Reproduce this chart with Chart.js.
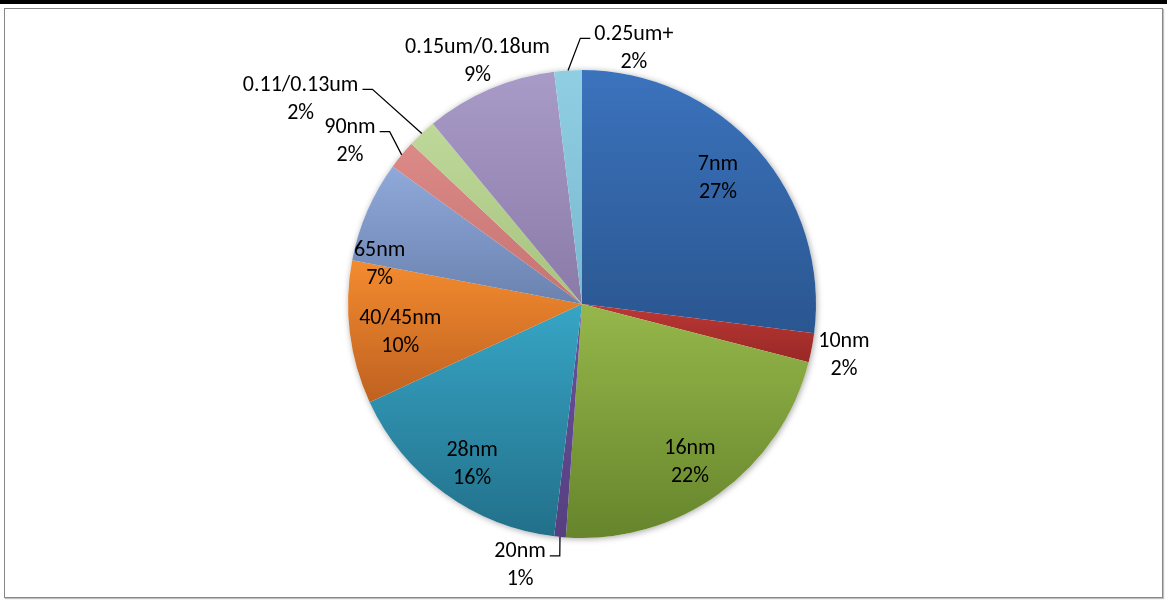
<!DOCTYPE html>
<html>
<head>
<meta charset="utf-8">
<script src="https://cdn.jsdelivr.net/npm/chart.js@4.4.1/dist/chart.umd.min.js"></script>
<style>
  html, body { margin: 0; padding: 0; background: #fff; }
  body { width: 1167px; height: 601px; position: relative; overflow: hidden; }
  .top-rule { position: absolute; left: 0; top: 0; width: 1167px; height: 4px; background: #000; }
  .frame { position: absolute; left: 4px; top: 8px; width: 1157px; height: 588px;
           border: 1px solid #878787; box-shadow: 1px 1px 1px rgba(0,0,0,.25); }
  #chart { position: absolute; left: 0; top: 0; }
</style>
</head>
<body>
<div class="top-rule"></div>
<div class="frame"></div>
<canvas id="chart" width="1167" height="601"></canvas>
<script>
/* process node share */
const nodes  = ['7nm', '10nm', '16nm', '20nm', '28nm', '40/45nm', '65nm', '90nm', '0.11/0.13um', '0.15um/0.18um', '0.25um+'];
const shares = [27, 2, 22.1, 0.8, 16.2, 9.9, 7, 2, 2, 9.1, 1.9];

// Excel-ish gradient: light at top of slice, darker at bottom
const lightColors = ['#3b73bd', '#bb3834', '#95b74a', '#6a529c', '#37a5c5', '#f38b2f', '#8fa9da', '#db8a88', '#bdd899', '#a99bc8', '#90cee3'];
const darkColors  = ['#2a5690', '#982826', '#66852c', '#553f80', '#22708a', '#bf6120', '#6b82af', '#c67371', '#a8c37e', '#8a7aa8', '#79b8ce'];

// label placement: radius factor + angle shift (deg, clockwise) from slice middle
const labelPlace = [
  { r: 0.797, da: -1.8 },
  { r: 1.139, da: -0.2 },
  { r: 0.814, da: 1.3 },
  { r: 1.142, da: 8.0, leader: 'right' },
  { r: 0.825, da: -1.3 },
  { r: 0.785, da: -1.4 },
  { r: 0.883, da: -11.8 },
  { r: 1.215, da: -4.3, leader: 'right' },
  { r: 1.492, da: -10.5, leader: 'right' },
  { r: 1.138, da: 0.1 },
  { r: 1.123, da: 14.8, leader: 'left' },
];

const LABEL_FONT = '22px Carlito, Calibri, Lato, sans-serif';
const LINE_H = 28;

function sliceBounds(el) {
  const { x, y, startAngle, endAngle, outerRadius } = el.getProps(['x', 'y', 'startAngle', 'endAngle', 'outerRadius'], true);
  let minY = y, maxY = y;
  const steps = 40;
  for (let i = 0; i <= steps; i++) {
    const a = startAngle + (endAngle - startAngle) * i / steps;
    const py = y + outerRadius * Math.sin(a);
    minY = Math.min(minY, py);
    maxY = Math.max(maxY, py);
  }
  return { minY, maxY };
}

const pieDecor = {
  id: 'pieDecor',
  beforeDatasetsDraw(chart) {
    const ctx = chart.ctx;
    const arcs = chart.getDatasetMeta(0).data;
    if (!arcs.length) return;
    const { x, y, outerRadius } = arcs[0].getProps(['x', 'y', 'outerRadius'], true);

    // soft shadow behind the whole pie
    ctx.save();
    ctx.shadowColor = 'rgba(0,0,0,0.35)';
    ctx.shadowBlur = 6;
    ctx.shadowOffsetX = 1;
    ctx.shadowOffsetY = 1;
    ctx.fillStyle = '#fff';
    ctx.beginPath();
    ctx.arc(x, y, outerRadius, 0, Math.PI * 2);
    ctx.fill();
    ctx.restore();

    arcs.forEach((el, i) => {
      const b = sliceBounds(el);
      const g = ctx.createLinearGradient(0, b.minY, 0, b.maxY + 0.01);
      g.addColorStop(0, lightColors[i]);
      g.addColorStop(1, darkColors[i]);
      el.options.backgroundColor = g;
    });
  },
  afterDatasetsDraw(chart) {
    const ctx = chart.ctx;
    const arcs = chart.getDatasetMeta(0).data;
    const total = shares.reduce((s, v) => s + v, 0);
    ctx.save();
    ctx.font = LABEL_FONT;
    ctx.fillStyle = '#000';
    ctx.textAlign = 'center';
    ctx.textBaseline = 'middle';
    ctx.strokeStyle = '#000';
    ctx.lineWidth = 1.25;

    arcs.forEach((el, i) => {
      const { x, y, startAngle, endAngle, outerRadius } = el.getProps(['x', 'y', 'startAngle', 'endAngle', 'outerRadius'], true);
      const mid = (startAngle + endAngle) / 2;
      const p = labelPlace[i];
      const a = mid + p.da * Math.PI / 180;
      const cx = x + outerRadius * p.r * Math.cos(a);
      const cy = y + outerRadius * p.r * Math.sin(a) + 2;
      const line1 = nodes[i];
      const line2 = Math.round(shares[i] / total * 100) + '%';
      const y1 = cy - LINE_H / 2;
      ctx.fillText(line1, cx, y1);
      ctx.fillText(line2, cx, cy + LINE_H / 2);

      if (p.leader) {
        const w = ctx.measureText(line1).width;
        const ly = y1 + 4;
        const side = p.leader === 'right' ? 1 : -1;
        const ex = cx + side * (w / 2 + 4);
        const kx = ex + side * 10;
        const sx = x + outerRadius * Math.cos(mid);
        const sy = y + outerRadius * Math.sin(mid);
        ctx.beginPath();
        ctx.moveTo(ex, ly);
        ctx.lineTo(kx, ly);
        ctx.lineTo(sx, sy);
        ctx.stroke();
      }
    });
    ctx.restore();
  }
};

new Chart(document.getElementById('chart'), {
  type: 'pie',
  data: {
    labels: nodes,
    datasets: [{
      data: shares,
      backgroundColor: lightColors,
      borderWidth: 0,
      hoverOffset: 0,
    }],
  },
  options: {
    responsive: false,
    animation: false,
    devicePixelRatio: 1,
    events: [],
    layout: { padding: { left: 348, right: 351, top: 70, bottom: 63 } },
    plugins: {
      legend: { display: false },
      tooltip: { enabled: false },
    },
  },
  plugins: [pieDecor],
});
</script>
</body>
</html>
